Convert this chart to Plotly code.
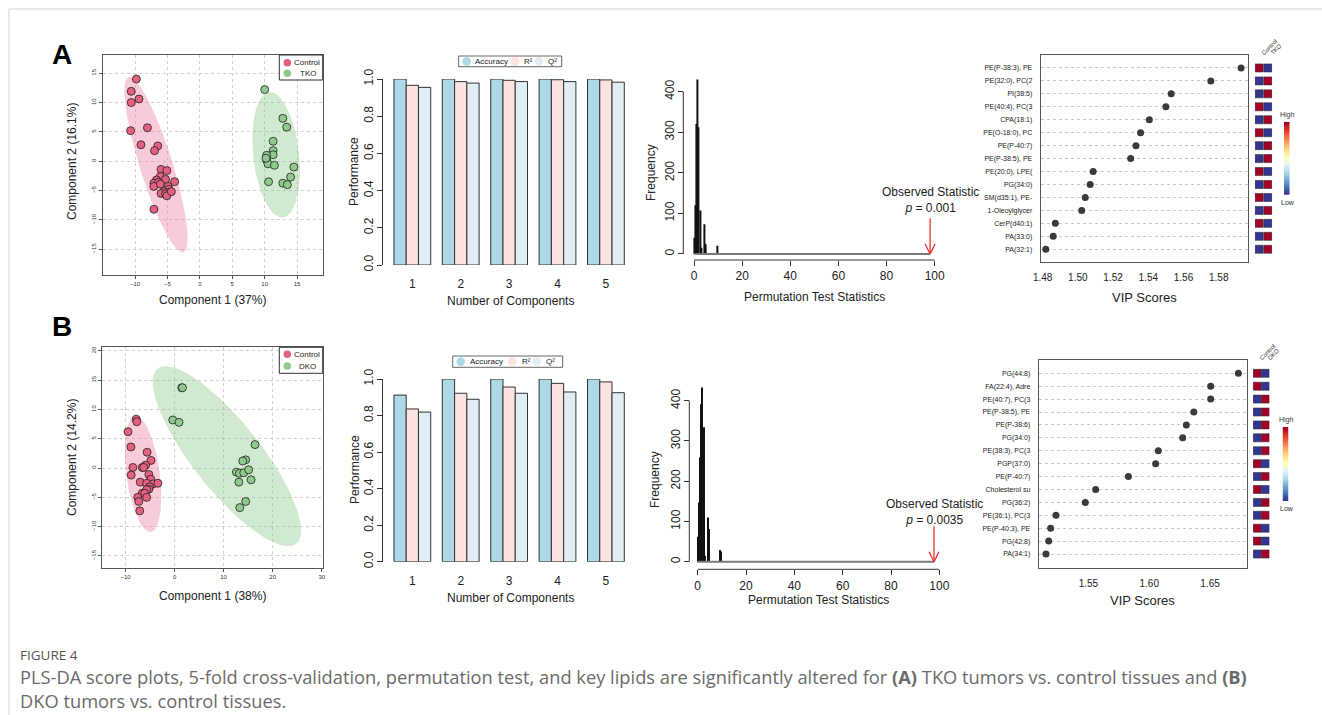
import numpy as np
import plotly.graph_objects as go

W, H = 1322, 715

# ---------------- DATA ----------------
# Panel A score plot (PLS-DA)
ctrl_a_x = [-9.8, -10.6, -10.6, -9.4, -10.7, -8.1, -9.1, -6.5, -7.0, -6.0, -5.1, -6.1, -5.3, -3.9,
            -6.7, -7.1, -6.4, -7.1, -6.1, -4.9, -4.8, -5.6, -4.75, -6.0, -5.3, -5.1, -4.4, -7.1]
ctrl_a_y = [14.0, 11.9, 10.0, 10.6, 5.2, 5.7, 2.8, 2.6, 1.8, -1.4, -1.6, -2.6, -3.1, -3.5,
            -3.2, -3.75, -3.6, -4.3, -3.9, -4.3, -4.8, -5.2, -5.3, -5.5, -5.6, -5.9, -5.2, -8.2]
tko_x = [10.0, 12.8, 13.4, 11.3, 11.3, 11.3, 10.3, 10.3, 10.5, 11.5, 14.5, 14.0, 10.6, 12.8, 13.5, 10.2]
tko_y = [12.2, 7.3, 5.8, 3.4, 1.8, 1.1, 1.0, 0.2, -0.45, -0.7, -1.0, -2.7, -3.5, -3.75, -4.0, 0.5]

# Panel B score plot
ctrl_b_x = [-7.83, -7.7, -9.5, -8.9, -8.5, -8.85, -5.6, -4.8, -5.9, -6.6, -6.3, -5.25, -4.85, -7.0,
            -4.4, -3.4, -5.7, -5.1, -5.25, -5.7, -6.6, -6.1, -7.5, -5.7, -7.3, -7.1]
ctrl_b_y = [8.33, 7.9, 6.2, 3.6, 0.1, -1.2, 2.7, 1.3, 0.5, 0.1, 0.1, -1.1, -1.9, -2.4,
            -2.7, -2.6, -2.6, -3.2, -3.6, -3.7, -4.3, -4.3, -5.0, -5.0, -5.7, -7.3]
dko_x = [1.46, 1.6, -0.37, 0.9, 16.4, 14.5, 13.9, 12.6, 13.2, 14.1, 15.1, 13.1, 15.6, 14.5, 13.3]
dko_y = [13.7, 13.7, 8.2, 7.8, 4.0, 1.4, 1.2, -0.7, -0.9, -0.8, -0.3, -2.4, -2.0, -5.7, -6.75]

# Cross-validation performance
n_comp = [1, 2, 3, 4, 5]
acc_a = [1.0, 1.0, 1.0, 1.0, 1.0]
r2_a = [0.966, 0.986, 0.993, 0.996, 0.995]
q2_a = [0.955, 0.978, 0.986, 0.986, 0.983]
acc_b = [0.912, 1.0, 1.0, 1.0, 1.0]
r2_b = [0.836, 0.922, 0.956, 0.976, 0.984]
q2_b = [0.819, 0.889, 0.922, 0.929, 0.925]
perf_labels = ["Accuracy", "R²", "Q²"]

# Permutation test histograms
perm_a_stat = [0.15, 0.55, 0.85, 1.25, 1.8, 2.5, 2.9, 4.15, 4.6, 4.8, 9.6]
perm_a_freq = [40, 120, 320, 430, 312, 107, 15, 73, 25, 20, 20]
obs_a = 98.1
p_a = "0.001"
perm_b_stat = [0.3, 0.7, 1.1, 1.4, 1.9, 2.15, 2.6, 3.0, 4.3, 4.7, 9.2, 9.7]
perm_b_freq = [62, 147, 259, 391, 433, 20, 334, 15, 110, 81, 29, 25]
obs_b = 97.8
p_b = "0.0035"

# VIP scores
vip_a_names = ["PE(P-38:3), PE", "PE(32:0), PC(2", "PI(38:5)", "PE(40:4), PC(3", "CPA(18:1)",
               "PE(O-18:0), PC", "PE(P-40:7)", "PE(P-38:5), PE", "PE(20:0), LPE(", "PG(34:0)",
               "SM(d35:1), PE-", "1-Oleoylglycer", "CerP(d40:1)", "PA(33:0)", "PA(32:1)"]
vip_a_vals = [1.5927, 1.5755, 1.5530, 1.5500, 1.5406, 1.5356, 1.5330, 1.5300, 1.5087, 1.5070,
              1.5042, 1.5022, 1.4872, 1.4860, 1.4818]
vip_a_ctrl = [1, 0, 0, 1, 0, 1, 0, 0, 1, 0, 1, 0, 1, 0, 0]
vip_a_ko = [0, 1, 1, 0, 1, 0, 1, 1, 0, 1, 0, 1, 0, 1, 1]

vip_b_names = ["PG(44:8)", "FA(22:4), Adre", "PE(40:7), PC(3", "PE(P-38:5), PE", "PE(P-38:6)",
               "PG(34:0)", "PE(38:3), PC(3", "PGP(37:0)", "PE(P-40:7)", "Cholesterol su",
               "PG(36:2)", "PE(36:1), PC(3", "PE(P-40:3), PE", "PG(42:8)", "PA(34:1)"]
vip_b_vals = [1.6733, 1.6505, 1.6505, 1.6366, 1.6305, 1.6275, 1.6075, 1.6053, 1.5829, 1.5560,
              1.5475, 1.5234, 1.5190, 1.5174, 1.5152]
vip_b_ctrl = [1, 1, 0, 0, 0, 0, 0, 1, 0, 1, 0, 0, 1, 1, 0]
vip_b_ko = [0, 0, 1, 1, 1, 1, 1, 0, 1, 0, 1, 1, 0, 0, 1]

# ---------------- HELPERS ----------------
def dx(a, b):
    return [a / W, b / W]

def dy(top, bottom):
    return [1 - bottom / H, 1 - top / H]

def px(v):
    return v / W

def py(v):
    return 1 - v / H

def conf_ellipse(x, y, level=0.95, n=120):
    pts = np.column_stack([x, y])
    mu = pts.mean(axis=0)
    cov = np.cov(pts.T)
    t = np.sqrt(-2 * np.log(1 - level))
    vals, vecs = np.linalg.eigh(cov)
    th = np.linspace(0, 2 * np.pi, n)
    circ = np.vstack([np.cos(th), np.sin(th)])
    e = (vecs @ np.diag(np.sqrt(vals)) @ circ) * t
    return mu[0] + e[0], mu[1] + e[1]

FONT = "Liberation Sans, Arial, sans-serif"
PINK = "#E3607F"
GREEN = "#8FC98C"
PINK_E = "rgba(235,130,160,0.42)"
GREEN_E = "rgba(140,200,135,0.40)"
ACC_C = "#ADD8E6"
R2_C = "#FDE2DF"
Q2_C = "#E0EEF3"
BAR_COLS = [ACC_C, R2_C, Q2_C]
RDYLBU = [[0.0, "#313695"], [0.1, "#4575b4"], [0.2, "#74add1"], [0.3, "#abd9e9"], [0.4, "#e0f3f8"],
          [0.5, "#ffffbf"], [0.6, "#fee090"], [0.7, "#fdae61"], [0.8, "#f46d43"], [0.9, "#d73027"],
          [1.0, "#a50026"]]

fig = go.Figure()
shapes = []
ann = []

def t(xp, yp, text, size=12, angle=0, **kw):
    ann.append(dict(x=px(xp), y=py(yp), xref="paper", yref="paper", text=text, showarrow=False,
                    textangle=angle, font=dict(size=size, color=kw.get("color", "#222"),
                                               family=kw.get("family", FONT)),
                    xanchor=kw.get("xanchor", "center"), yanchor=kw.get("yanchor", "middle"),
                    align=kw.get("align", "center")))

def legend_box(x0, x1, y0, y1, border="#333"):
    shapes.append(dict(type="rect", xref="paper", yref="paper", x0=px(x0), x1=px(x1), y0=py(y1), y1=py(y0),
                       fillcolor="white", line=dict(color=border, width=1), layer="above"))

def legend_dot(cx, cy, r, col):
    shapes.append(dict(type="circle", xref="paper", yref="paper", x0=px(cx - r), x1=px(cx + r),
                       y0=py(cy + r), y1=py(cy - r), fillcolor=col, line=dict(width=0), layer="above"))

# ---------------- SCORE PLOTS ----------------
def score_panel(cx, cy, kx, ky, xa, ya):
    ex, ey = conf_ellipse(cx, cy)
    fig.add_trace(go.Scatter(x=ex, y=ey, fill="toself", fillcolor=PINK_E, line=dict(width=0),
                             mode="lines", showlegend=False, hoverinfo="skip", xaxis=xa, yaxis=ya))
    ex, ey = conf_ellipse(kx, ky)
    fig.add_trace(go.Scatter(x=ex, y=ey, fill="toself", fillcolor=GREEN_E, line=dict(width=0),
                             mode="lines", showlegend=False, hoverinfo="skip", xaxis=xa, yaxis=ya))
    fig.add_trace(go.Scatter(x=cx, y=cy, mode="markers", showlegend=False,
                             marker=dict(size=8, color=PINK, line=dict(color="#222", width=0.8)),
                             xaxis=xa, yaxis=ya))
    fig.add_trace(go.Scatter(x=kx, y=ky, mode="markers", showlegend=False,
                             marker=dict(size=8, color=GREEN, line=dict(color="#222", width=0.8)),
                             xaxis=xa, yaxis=ya))

score_panel(ctrl_a_x, ctrl_a_y, tko_x, tko_y, "x", "y")
score_panel(ctrl_b_x, ctrl_b_y, dko_x, dko_y, "x6", "y6")

for (top, bot, y1, y2, kn) in [(55, 80, 62.7, 73.3, "TKO"), (347.3, 373.3, 354.3, 366.0, "DKO")]:
    legend_box(279.3, 322.7, top, bot)
    legend_dot(287.3, y1, 3.8, PINK)
    legend_dot(287.3, y2, 3.8, GREEN)
    t(307, y1, "Control", 8)
    t(307.5, y2, kn, 8)

score_ax = dict(showgrid=True, griddash="dot", gridcolor="#cfcfcf", gridwidth=1, zeroline=False,
                showline=True, mirror=True, linecolor="#555", linewidth=1, ticks="outside",
                ticklen=3, tickcolor="#555", tickfont=dict(size=6, color="#333", family=FONT))

# ---------------- BAR PLOTS ----------------
def bar_panel(series, xa, ya):
    for vals, col, nm in zip(series, BAR_COLS, perf_labels):
        fig.add_trace(go.Bar(x=n_comp, y=vals, marker=dict(color=col, line=dict(color="#333", width=1)),
                             showlegend=False, name=nm, xaxis=xa, yaxis=ya))

bar_panel([acc_a, r2_a, q2_a], "x2", "y2")
bar_panel([acc_b, r2_b, q2_b], "x7", "y7")

for (bx0, bx1, top, bot, dots, texts) in [
        (458.7, 561.7, 56, 66.7, [466.7, 515.3, 539.0], [473.3, 521.7, 545.7]),
        (452.7, 562.7, 356, 367.3, [460.7, 512.3, 536.7], [467.7, 520.0, 544.3])]:
    legend_box(bx0, bx1, top, bot, border="#666")
    cy = (top + bot) / 2
    for d, tx, col, lab in zip(dots, texts, BAR_COLS, perf_labels):
        legend_dot(d, cy, 4.3, col)
        t(tx, cy, lab, 8, xanchor="left")

bar_x = dict(range=[0.4, 5.5], tickvals=n_comp, showline=False, showgrid=False, zeroline=False,
             ticks="outside", ticklen=8, tickcolor="rgba(0,0,0,0)",
             tickfont=dict(size=12, color="#222", family=FONT))
bar_y = dict(range=[0, 1], tickvals=[0, 0.2, 0.4, 0.6, 0.8, 1.0],
             ticktext=["0.0", "0.2", "0.4", "0.6", "0.8", "1.0"], tickangle=-90,
             showline=True, linecolor="#333", linewidth=1, ticks="outside", ticklen=5, tickcolor="#333",
             showgrid=False, zeroline=False, tickfont=dict(size=12, color="#222", family=FONT))

# ---------------- PERMUTATION ----------------
def perm_panel(stat, freq, obs, pval, xa, ya, xpx_per, ypx_per, tshift):
    fig.add_trace(go.Scatter(x=[0, obs], y=[0, 0], mode="lines", line=dict(color="#7a7a7a", width=2),
                             showlegend=False, hoverinfo="skip", xaxis=xa, yaxis=ya))
    fig.add_trace(go.Bar(x=stat, y=freq, width=0.42, marker=dict(color="#111", line=dict(width=0)),
                         showlegend=False, xaxis=xa, yaxis=ya))
    top = 88
    hx = 5 / xpx_per
    hy = 10 / ypx_per
    fig.add_trace(go.Scatter(x=[obs, obs, None, obs - hx, obs, obs + hx], y=[top, 0, None, hy, 0, hy],
                             mode="lines", line=dict(color="#E8302A", width=1.3),
                             showlegend=False, hoverinfo="skip", xaxis=xa, yaxis=ya))
    ann.append(dict(x=obs, y=top, xref=xa, yref=ya, xanchor="center", yanchor="bottom", yshift=tshift,
                    text="Observed Statistic<br><i>p</i> = " + pval, showarrow=False, align="center",
                    font=dict(size=12, color="#222", family=FONT)))

perm_panel(perm_a_stat, perm_a_freq, obs_a, p_a, "x3", "y3", 2.407, 0.4058, 1)
perm_panel(perm_b_stat, perm_b_freq, obs_b, p_b, "x8", "y8", 2.416, 0.4025, -3)

perm_x = dict(range=[-4, 104], tickvals=[0, 20, 40, 60, 80, 100], showline=False, showgrid=False,
              zeroline=False, ticks="outside", ticklen=5, tickcolor="#333", anchor="free",
              tickfont=dict(size=12, color="#222", family=FONT))
perm_y = dict(range=[-8, 440], tickvals=[0, 100, 200, 300, 400], showline=False, showgrid=False,
              zeroline=False, ticks="outside", ticklen=5, tickcolor="#333", anchor="free",
              tickangle=-90, tickfont=dict(size=12, color="#222", family=FONT))

# ---------------- VIP ----------------
def vip_panel(names, vals, ctrl, ko, koname, xa, ya, xh):
    fig.add_trace(go.Scatter(x=vals, y=names, mode="markers",
                             marker=dict(size=7, color="#3a3a3a"), showlegend=False,
                             xaxis=xa, yaxis=ya))
    fig.add_trace(go.Scatter(x=["Control"] * len(names) + [koname] * len(names), y=names + names,
                             mode="markers", showlegend=False, xaxis=xh, yaxis=ya,
                             marker=dict(symbol="square", size=8, color=ctrl + ko, cmin=0, cmax=1,
                                         colorscale=RDYLBU, line=dict(color="#333", width=0.6))))

vip_panel(vip_a_names, vip_a_vals, vip_a_ctrl, vip_a_ko, "TKO", "x4", "y4", "x5")
vip_panel(vip_b_names, vip_b_vals, vip_b_ctrl, vip_b_ko, "DKO", "x9", "y9", "x10")

# colour keys drawn as a gradient strip
grad = np.linspace(0, 1, 80)
for xa, ya in [("x11", "y11"), ("x12", "y12")]:
    fig.add_trace(go.Heatmap(z=[[v] for v in grad], colorscale=RDYLBU, zmin=0, zmax=1, showscale=False,
                             hoverinfo="skip", xaxis=xa, yaxis=ya))

for (x0, x1, top, bot) in [(1284, 1289.5, 121.7, 195), (1282.5, 1288.5, 427, 501)]:
    t((x0 + x1) / 2 + 1, top - 7, "High", 7, color="#333")
    t((x0 + x1) / 2 + 1, bot + 7, "Low", 7, color="#333")

vip_x = dict(showline=True, mirror=True, linecolor="#555", linewidth=1, showgrid=False, zeroline=False,
             ticks="", tickfont=dict(size=10, color="#222", family=FONT), ticklabelstandoff=6)
vip_y = dict(type="category", showline=True, mirror=True, linecolor="#555", linewidth=1, showgrid=True,
             griddash="dot", gridcolor="#c8c8c8", zeroline=False, ticks="",
             tickfont=dict(size=7, color="#222", family=FONT), ticklabelstandoff=6)
heat_x = dict(range=[-0.5, 1.5], visible=False, showgrid=False, zeroline=False)
key_ax = dict(visible=False, showgrid=False, zeroline=False)

# ---------------- LAYOUT ----------------
layout = dict(
    width=W, height=H, margin=dict(l=0, r=0, t=0, b=0, autoexpand=False), paper_bgcolor="white",
    plot_bgcolor="rgba(0,0,0,0)", showlegend=False,
    font=dict(family=FONT, color="#222"), barmode="group", bargap=0.24, bargroupgap=0,
    # score A
    xaxis=dict(domain=dx(102.7, 323), range=[-15, 19], tickvals=[-10, -5, 0, 5, 10, 15], anchor="y", **score_ax),
    yaxis=dict(domain=dy(55, 275), range=[-19.4, 18.1], tickvals=[-15, -10, -5, 0, 5, 10, 15], anchor="x",
               tickangle=-90, **score_ax),
    # score B
    xaxis6=dict(domain=dx(102, 322.7), range=[-14.8, 30.2], tickvals=[-10, 0, 10, 20, 30], anchor="y6", **score_ax),
    yaxis6=dict(domain=dy(347.3, 567.7), range=[-17, 20.6], tickvals=[-15, -10, -5, 0, 5, 10, 15, 20],
                anchor="x6", tickangle=-90, **score_ax),
    # bars
    xaxis2=dict(domain=dx(383.3, 630.1), anchor="y2", **bar_x),
    yaxis2=dict(domain=dy(79, 265), anchor="x2", **bar_y),
    xaxis7=dict(domain=dx(383.3, 630.1), anchor="y7", **bar_x),
    yaxis7=dict(domain=dy(379, 561.7), anchor="x7", **bar_y),
    # permutation
    xaxis3=dict(domain=dx(684.4, 944.3), position=py(260), **perm_x),
    yaxis3=dict(domain=dy(75.4, 257.2), position=px(683.3), **perm_y),
    xaxis8=dict(domain=dx(688.0, 949.0), position=py(569.3), **perm_x),
    yaxis8=dict(domain=dy(384.6, 564.9), position=px(689.3), **perm_y),
    # VIP
    xaxis4=dict(domain=dx(1040.7, 1248.3), range=[1.4789, 1.5968], anchor="y4",
                tickvals=[1.48, 1.50, 1.52, 1.54, 1.56, 1.58], tickformat=".2f", **vip_x),
    yaxis4=dict(domain=dy(55, 261.7), anchor="x4", categoryorder="array", categoryarray=vip_a_names,
                range=[14.96, -1.0], **vip_y),
    xaxis5=dict(domain=dx(1254.8, 1272.2), anchor="y4", **heat_x),
    xaxis9=dict(domain=dx(1038.7, 1246.7), range=[1.5092, 1.6801], anchor="y9",
                tickvals=[1.55, 1.60, 1.65], tickformat=".2f", **vip_x),
    yaxis9=dict(domain=dy(360, 567.7), anchor="x9", categoryorder="array", categoryarray=vip_b_names,
                range=[15.06, -1.03], **vip_y),
    xaxis10=dict(domain=dx(1253.05, 1269.45), anchor="y9", **heat_x),
    # colour keys
    xaxis11=dict(domain=dx(1284, 1289.5), anchor="y11", **key_ax),
    yaxis11=dict(domain=dy(121.7, 195), anchor="x11", **key_ax),
    xaxis12=dict(domain=dx(1282.5, 1288.5), anchor="y12", **key_ax),
    yaxis12=dict(domain=dy(427, 501), anchor="x12", **key_ax),
)

# axis lines for R-style permutation plots
for xa, ya, ypos, xpos in [("x3", "y3", 260, 683.3), ("x8", "y8", 569.3, 689.3)]:
    shapes.append(dict(type="line", xref=xa, yref="paper", x0=0, x1=100, y0=py(ypos), y1=py(ypos),
                       line=dict(color="#333", width=1)))
    shapes.append(dict(type="line", xref="paper", yref=ya, x0=px(xpos), x1=px(xpos), y0=0, y1=400,
                       line=dict(color="#333", width=1)))

# page frame
shapes.append(dict(type="rect", xref="paper", yref="paper", x0=px(9), x1=1.05, y0=-0.05, y1=py(9),
                   line=dict(color="#d4d4d4", width=1), layer="below"))

t(62, 55, "<b>A</b>", 28, color="#000")
t(62, 326, "<b>B</b>", 28, color="#000")
# score
t(212, 300, "Component 1 (37%)", 12)
t(72, 162, "Component 2 (16.1%)", 12, -90)
t(212, 596, "Component 1 (38%)", 12)
t(72, 458, "Component 2 (14.2%)", 12, -90)
# bars
t(510, 301, "Number of Components", 12)
t(354, 172, "Performance", 12, -90)
t(510, 598, "Number of Components", 12)
t(355, 470, "Performance", 12, -90)
# permutation
t(814, 297, "Permutation Test Statistics", 12)
t(651, 173, "Frequency", 12, -90)
t(818, 600, "Permutation Test Statistics", 12)
t(655, 480, "Frequency", 12, -90)
# VIP
t(1144, 297, "VIP Scores", 13)
t(1142, 600, "VIP Scores", 13)
# heatmap headers
for (xc, xk, ytop, kn) in [(1259.2, 1267.9, 50, "TKO"), (1257.2, 1265.4, 355, "DKO")]:
    ann.append(dict(x=px(xc - 1), y=py(ytop + 9), xref="paper", yref="paper", text="Control", showarrow=False,
                    textangle=-45, xanchor="left", yanchor="bottom", font=dict(size=6, color="#333", family=FONT)))
    ann.append(dict(x=px(xk - 1), y=py(ytop + 9), xref="paper", yref="paper", text=kn, showarrow=False,
                    textangle=-45, xanchor="left", yanchor="bottom", font=dict(size=6, color="#333", family=FONT)))
# caption
t(18, 655, "FIGURE 4", 13.5, color="#555", family="Open Sans", xanchor="left")
t(18, 714.5, "PLS-DA score plots, 5-fold cross-validation, permutation test, and key lipids are significantly altered for "
             "<b>(A)</b> TKO tumors vs. control tissues and <b>(B)</b><br>DKO tumors vs. control tissues.",
  18.3, color="#6b6b6b", family="Open Sans", xanchor="left", yanchor="bottom", align="left")

layout["shapes"] = shapes
layout["annotations"] = ann
fig.update_layout(**layout)
fig.write_html("out.html", config={"displayModeBar": False},
               post_script="document.body.style.margin='0';document.body.style.overflow='hidden';")
